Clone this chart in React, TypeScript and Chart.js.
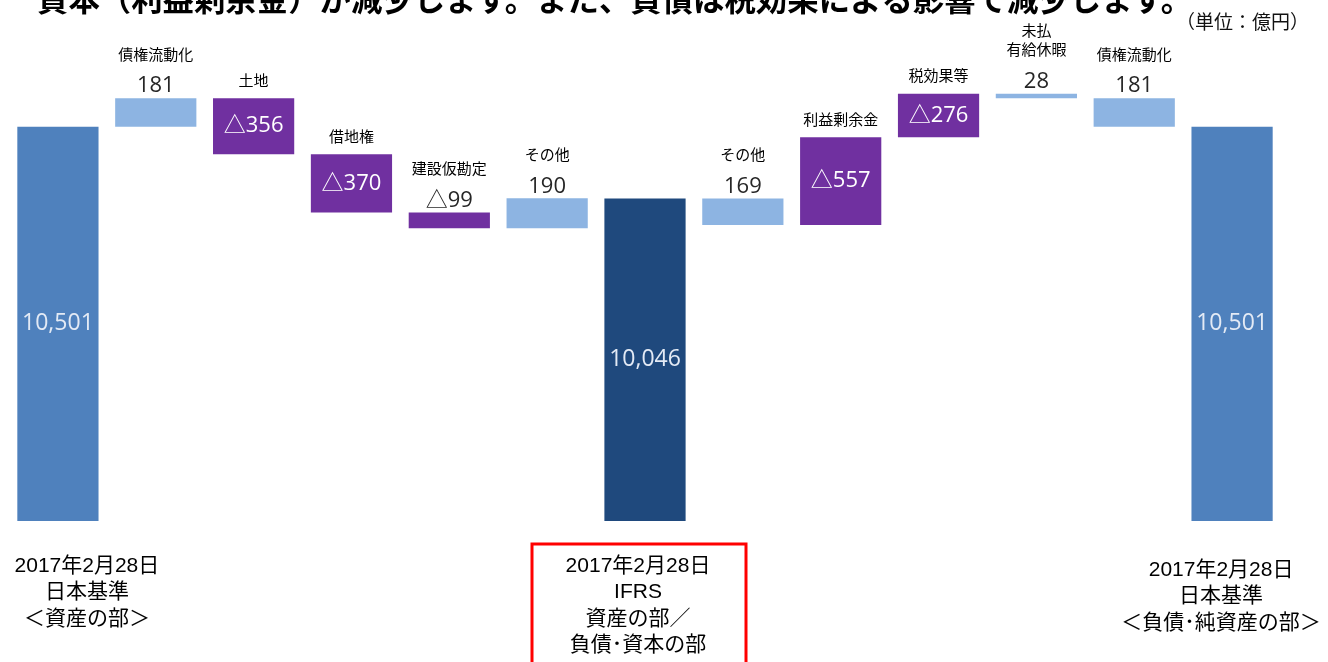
import { useEffect, useRef } from 'react';
import { Chart, registerables } from 'chart.js';

Chart.register(...registerables);

// ---- data ----
const categories: string[][] = [
  ['2017年2月28日', '日本基準', '＜資産の部＞'],
  ['債権流動化'],
  ['土地'],
  ['借地権'],
  ['建設仮勘定'],
  ['その他'],
  ['2017年2月28日', 'IFRS', '資産の部／', '負債･資本の部'],
  ['その他'],
  ['利益剰余金'],
  ['税効果等'],
  ['未払', '有給休暇'],
  ['債権流動化'],
  ['2017年2月28日', '日本基準', '＜負債･純資産の部＞'],
];
const values = [10501, 181, -356, -370, -99, 190, 10046, 169, -557, -276, 28, 181, 10501];
const totalFlags = [true, false, false, false, false, false, true, false, false, false, false, false, true];
const highlightIndex = 6;
const titleText = '資本（利益剰余金）が減少します。また、負債は税効果による影響で減少します。';
const unitText = '（単位：億円）';
const Y_MIN = 8000;
const Y_MAX = 11000;

function buildRanges(): [number, number][] {
  const ranges: [number, number][] = values.map(() => [0, 0]);
  const totals = totalFlags.map((t, i) => (t ? i : -1)).filter((i) => i >= 0);
  totals.forEach((i) => (ranges[i] = [Y_MIN, values[i]]));
  for (let s = 0; s < totals.length - 1; s++) {
    const a = totals[s];
    const b = totals[s + 1];
    if (s === 0) {
      let run = values[a];
      for (let i = a + 1; i < b; i++) {
        ranges[i] = [run, run + values[i]];
        run += values[i];
      }
    } else {
      let run = values[b];
      for (let i = b - 1; i > a; i--) {
        ranges[i] = [run, run + values[i]];
        run += values[i];
      }
    }
  }
  return ranges;
}

const fmt = (n: number) => Math.abs(n).toLocaleString('en-US');

const COL_TOTAL = '#4F81BD';
const COL_HIGHLIGHT = '#1F497D';
const COL_UP = '#8DB4E2';
const COL_DOWN = '#7030A0';

const VALUE_FONT = '22px "Open Sans", "Noto Sans CJK JP", sans-serif';
const TOTAL_FONT = '23px "Open Sans", "Noto Sans CJK JP", sans-serif';
const CAT_FONT = '15px "Noto Sans CJK JP", sans-serif';
const BOTTOM_FONT = '21px "Liberation Sans", "Noto Sans CJK JP", sans-serif';

const labelPlugin = {
  id: 'waterfallLabels',
  afterDatasetsDraw(chart: any) {
    const ctx: CanvasRenderingContext2D = chart.ctx;
    const meta = chart.getDatasetMeta(0);
    ctx.save();
    ctx.textAlign = 'center';
    ctx.textBaseline = 'middle';
    meta.data.forEach((el: any, i: number) => {
      const { x, y, base } = el.getProps(['x', 'y', 'base'], true);
      const top = Math.min(y, base);
      const bottom = Math.max(y, base);
      const h = bottom - top;
      const v = values[i];
      if (totalFlags[i]) {
        ctx.font = TOTAL_FONT;
        ctx.fillStyle = '#E3EAF5';
        ctx.fillText(v.toLocaleString('en-US'), x, (top + bottom) / 2);
        // bottom label
        const dx = i === 0 ? 29 : i === highlightIndex ? -7 : -11;
        const y0 = i === meta.data.length - 1 ? 570 - 521 + bottom : 566 - 521 + bottom;
        ctx.font = BOTTOM_FONT;
        ctx.fillStyle = '#000';
        categories[i].forEach((line, k) => ctx.fillText(line, x + dx, y0 + k * 26.5));
        if (i === highlightIndex) {
          ctx.strokeStyle = '#FF0000';
          ctx.lineWidth = 3;
          ctx.strokeRect(x - 113, bottom + 23, 214, 140);
        }
        return;
      }
      const label = v < 0 ? '△' + fmt(v) : fmt(v);
      const inside = v < 0 && h > 30;
      let catBottom: number;
      if (inside) {
        ctx.font = VALUE_FONT;
        ctx.fillStyle = '#FFFFFF';
        ctx.fillText(label, x, (top + bottom) / 2);
        catBottom = top - 18;
      } else {
        const vy = top - 12;
        ctx.font = VALUE_FONT;
        ctx.fillStyle = '#262626';
        ctx.fillText(label, x, vy);
        catBottom = vy - 32;
      }
      ctx.font = CAT_FONT;
      ctx.fillStyle = '#000';
      const lines = categories[i];
      lines.forEach((line, k) => {
        ctx.fillText(line, x, catBottom - (lines.length - 1 - k) * 19);
      });
    });
    // title (cut off at the top) and unit
    ctx.textAlign = 'left';
    ctx.textBaseline = 'alphabetic';
    ctx.font = 'bold 31.4px "Noto Sans CJK JP", sans-serif';
    ctx.fillStyle = '#000';
    ctx.fillText(titleText, 37, 11);
    ctx.textAlign = 'right';
    ctx.textBaseline = 'middle';
    ctx.font = '19px "Noto Sans CJK JP", sans-serif';
    ctx.fillStyle = '#111';
    ctx.fillText(unitText, 1309, 22);
    ctx.restore();
  },
};

export default function App() {
  const ref = useRef<HTMLCanvasElement | null>(null);
  useEffect(() => {
    if (!ref.current) return;
    const ranges = buildRanges();
    const colors = values.map((v, i) =>
      totalFlags[i] ? (i === highlightIndex ? COL_HIGHLIGHT : COL_TOTAL) : v < 0 ? COL_DOWN : COL_UP
    );
    const chart = new Chart(ref.current, {
      type: 'bar',
      data: {
        labels: categories.map((c) => c.join(' ')),
        datasets: [
          {
            data: ranges as any,
            backgroundColor: colors,
            borderWidth: 0,
            barPercentage: 0.83,
            categoryPercentage: 1,
          },
        ],
      },
      options: {
        animation: false,
        responsive: false,
        devicePixelRatio: 1,
        layout: { padding: { left: 9, right: 47, top: 48, bottom: 141 } },
        plugins: { legend: { display: false }, tooltip: { enabled: false }, title: { display: false } },
        scales: {
          x: { display: false },
          y: { display: false, min: Y_MIN, max: Y_MAX },
        },
      },
      plugins: [labelPlugin],
    });
    return () => chart.destroy();
  }, []);
  return (
    <div style={{ position: 'absolute', left: 0, top: 0, width: 1328, height: 662, background: '#fff' }}>
      <canvas ref={ref} width={1328} height={662} style={{ display: 'block' }} />
    </div>
  );
}
